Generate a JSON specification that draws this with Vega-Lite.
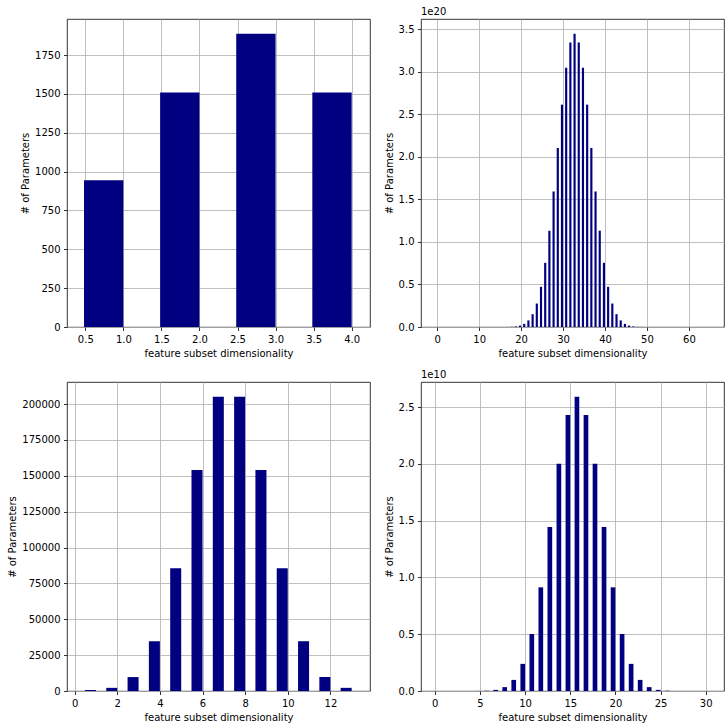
{
  "$schema": "https://vega.github.io/schema/vega-lite/v6.json",
  "background": "white",
  "padding": {"left": 7, "top": 6, "right": 0, "bottom": 0},
  "bounds": "flush",
  "columns": 2,
  "spacing": {"row": 55, "column": 51},
  "datasets": {
    "tl": [
      {"k": 1, "v": 945}, {"k": 2, "v": 1510}, {"k": 3, "v": 1888}, {"k": 4, "v": 1510}
    ],
    "tr": [
      {"k": 1, "v": 0}, {"k": 2, "v": 0}, {"k": 3, "v": 0}, {"k": 4, "v": 0}, {"k": 5, "v": 0},
      {"k": 6, "v": 0}, {"k": 7, "v": 0}, {"k": 8, "v": 0}, {"k": 9, "v": 0}, {"k": 10, "v": 0},
      {"k": 11, "v": 0}, {"k": 12, "v": 0}, {"k": 13, "v": 0}, {"k": 14, "v": 0}, {"k": 15, "v": 0},
      {"k": 16, "v": 3.1e16}, {"k": 17, "v": 9.3e16}, {"k": 18, "v": 2.6e17}, {"k": 19, "v": 6.8e17},
      {"k": 20, "v": 1.64e18}, {"k": 21, "v": 3.69e18}, {"k": 22, "v": 7.74e18}, {"k": 23, "v": 1.51e19},
      {"k": 24, "v": 2.76e19}, {"k": 25, "v": 4.72e19}, {"k": 26, "v": 7.55e19}, {"k": 27, "v": 1.133e20},
      {"k": 28, "v": 1.594e20}, {"k": 29, "v": 2.106e20}, {"k": 30, "v": 2.615e20}, {"k": 31, "v": 3.05e20},
      {"k": 32, "v": 3.347e20}, {"k": 33, "v": 3.45e20}, {"k": 34, "v": 3.347e20}, {"k": 35, "v": 3.05e20},
      {"k": 36, "v": 2.615e20}, {"k": 37, "v": 2.106e20}, {"k": 38, "v": 1.594e20}, {"k": 39, "v": 1.133e20},
      {"k": 40, "v": 7.55e19}, {"k": 41, "v": 4.72e19}, {"k": 42, "v": 2.76e19}, {"k": 43, "v": 1.51e19},
      {"k": 44, "v": 7.74e18}, {"k": 45, "v": 3.69e18}, {"k": 46, "v": 1.64e18}, {"k": 47, "v": 6.8e17},
      {"k": 48, "v": 2.6e17}, {"k": 49, "v": 9.3e16}, {"k": 50, "v": 3.1e16}, {"k": 51, "v": 0},
      {"k": 52, "v": 0}, {"k": 53, "v": 0}, {"k": 54, "v": 0}, {"k": 55, "v": 0}, {"k": 56, "v": 0},
      {"k": 57, "v": 0}, {"k": 58, "v": 0}, {"k": 59, "v": 0}, {"k": 60, "v": 0}, {"k": 61, "v": 0},
      {"k": 62, "v": 0}, {"k": 63, "v": 0}, {"k": 64, "v": 0}
    ],
    "bl": [
      {"k": 1, "v": 700}, {"k": 2, "v": 2200}, {"k": 3, "v": 9700}, {"k": 4, "v": 34700},
      {"k": 5, "v": 85600}, {"k": 6, "v": 154000}, {"k": 7, "v": 205100}, {"k": 8, "v": 205100},
      {"k": 9, "v": 154000}, {"k": 10, "v": 85600}, {"k": 11, "v": 34700}, {"k": 12, "v": 9700},
      {"k": 13, "v": 2200}
    ],
    "br": [
      {"k": 1, "v": 0}, {"k": 2, "v": 0}, {"k": 3, "v": 0}, {"k": 4, "v": 7e5}, {"k": 5, "v": 4.6e6},
      {"k": 6, "v": 2.4e7}, {"k": 7, "v": 9.9e7}, {"k": 8, "v": 3.4e8}, {"k": 9, "v": 9.78e8},
      {"k": 10, "v": 2.39e9}, {"k": 11, "v": 5.02e9}, {"k": 12, "v": 9.13e9}, {"k": 13, "v": 1.445e10},
      {"k": 14, "v": 2.001e10}, {"k": 15, "v": 2.43e10}, {"k": 16, "v": 2.592e10}, {"k": 17, "v": 2.43e10},
      {"k": 18, "v": 2.001e10}, {"k": 19, "v": 1.445e10}, {"k": 20, "v": 9.13e9}, {"k": 21, "v": 5.02e9},
      {"k": 22, "v": 2.39e9}, {"k": 23, "v": 9.78e8}, {"k": 24, "v": 3.4e8}, {"k": 25, "v": 9.9e7},
      {"k": 26, "v": 2.4e7}, {"k": 27, "v": 4.6e6}, {"k": 28, "v": 7e5}, {"k": 29, "v": 0}, {"k": 30, "v": 0}
    ]
  },
  "concat": [
    {
      "width": 303, "height": 308,
      "data": {"name": "tl"},
      "mark": {"type": "bar", "color": "#000080", "width": 39.35, "xOffset": -19.68},
      "encoding": {
        "x": {"field": "k", "type": "quantitative", "title": "feature subset dimensionality",
              "scale": {"domain": [0.325, 4.175], "nice": false, "zero": false},
              "axis": {"values": [0.5, 1, 1.5, 2, 2.5, 3, 3.5, 4], "format": ".1f"}},
        "y": {"field": "v", "type": "quantitative", "title": "# of Parameters",
              "scale": {"domain": [0, 1982.4], "nice": false},
              "axis": {"values": [0, 250, 500, 750, 1000, 1250, 1500, 1750], "format": "d"}}
      }
    },
    {
      "width": 303, "height": 308,
      "title": "1e20",
      "data": {"name": "tr"},
      "mark": {"type": "bar", "color": "#000080", "width": 2.17, "xOffset": -1.08},
      "encoding": {
        "x": {"field": "k", "type": "quantitative", "title": "feature subset dimensionality",
              "scale": {"domain": [-2.675, 67.175], "nice": false, "zero": false},
              "axis": {"values": [0, 10, 20, 30, 40, 50, 60], "format": "d"}},
        "y": {"field": "v", "type": "quantitative", "title": "# of Parameters",
              "scale": {"domain": [0, 3.6225e20], "nice": false},
              "axis": {"values": [0, 0.5e20, 1e20, 1.5e20, 2e20, 2.5e20, 3e20, 3.5e20],
                       "labelExpr": "format(datum.value / 1e20, '.1f')"}}
      }
    },
    {
      "width": 303, "height": 309,
      "data": {"name": "bl"},
      "mark": {"type": "bar", "color": "#000080", "width": 11.02, "xOffset": -5.51},
      "encoding": {
        "x": {"field": "k", "type": "quantitative", "title": "feature subset dimensionality",
              "scale": {"domain": [-0.125, 13.625], "nice": false, "zero": false},
              "axis": {"values": [0, 2, 4, 6, 8, 10, 12], "format": "d"}},
        "y": {"field": "v", "type": "quantitative", "title": "# of Parameters",
              "scale": {"domain": [0, 215355], "nice": false},
              "axis": {"values": [0, 25000, 50000, 75000, 100000, 125000, 150000, 175000, 200000], "format": "d"}}
      }
    },
    {
      "width": 303, "height": 309,
      "title": "1e10",
      "data": {"name": "br"},
      "mark": {"type": "bar", "color": "#000080", "width": 4.67, "xOffset": -2.33},
      "encoding": {
        "x": {"field": "k", "type": "quantitative", "title": "feature subset dimensionality",
              "scale": {"domain": [-0.975, 31.475], "nice": false, "zero": false},
              "axis": {"values": [0, 5, 10, 15, 20, 25, 30], "format": "d"}},
        "y": {"field": "v", "type": "quantitative", "title": "# of Parameters",
              "scale": {"domain": [0, 2.7216e10], "nice": false},
              "axis": {"values": [0, 0.5e10, 1e10, 1.5e10, 2e10, 2.5e10],
                       "labelExpr": "format(datum.value / 1e10, '.1f')"}}
      }
    }
  ],
  "config": {
    "font": "DejaVu Sans",
    "view": {"stroke": "#000000", "strokeWidth": 0.8},
    "axis": {
      "domain": false, "grid": true, "gridColor": "#b0b0b0", "gridWidth": 0.8, "gridOpacity": 1,
      "ticks": true, "tickColor": "#000000", "tickWidth": 0.8, "tickSize": 3.5,
      "labelFont": "DejaVu Sans", "labelFontSize": 10, "labelColor": "#000000", "labelPadding": 3.5,
      "titleFont": "DejaVu Sans", "titleFontSize": 10, "titleFontWeight": "normal", "titleColor": "#000000",
      "titlePadding": 4, "zindex": 1, "labelOverlap": false, "labelFlush": false
    },
    "title": {"font": "DejaVu Sans", "fontSize": 10, "fontWeight": "normal", "anchor": "start", "color": "#000000", "offset": 2, "frame": "group"}
  }
}
